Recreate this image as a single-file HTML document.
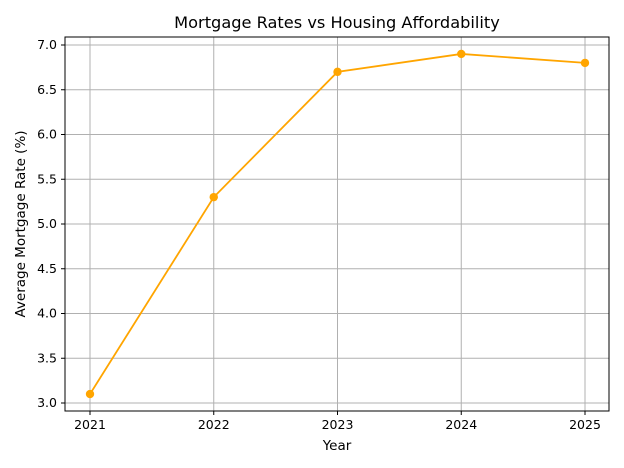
<!DOCTYPE html>
<html><head><meta charset="utf-8"><style>html,body{margin:0;padding:0;background:#fff;}svg{display:block;}</style></head>
<body>
<svg width="624" height="468" viewBox="0 0 624 468" xmlns="http://www.w3.org/2000/svg" font-family="'DejaVu Sans','Liberation Sans',sans-serif">
<rect width="624" height="468" fill="#fff"/>
<g stroke="#b0b0b0" stroke-width="1">
<line x1="90" y1="37" x2="90" y2="411"/>
<line x1="213.75" y1="37" x2="213.75" y2="411"/>
<line x1="337.5" y1="37" x2="337.5" y2="411"/>
<line x1="461.25" y1="37" x2="461.25" y2="411"/>
<line x1="585" y1="37" x2="585" y2="411"/>
<line x1="65" y1="403" x2="609" y2="403"/>
<line x1="65" y1="358.25" x2="609" y2="358.25"/>
<line x1="65" y1="313.5" x2="609" y2="313.5"/>
<line x1="65" y1="268.75" x2="609" y2="268.75"/>
<line x1="65" y1="224" x2="609" y2="224"/>
<line x1="65" y1="179.25" x2="609" y2="179.25"/>
<line x1="65" y1="134.5" x2="609" y2="134.5"/>
<line x1="65" y1="89.75" x2="609" y2="89.75"/>
<line x1="65" y1="45" x2="609" y2="45"/>
</g>
<polyline points="90,394.05 213.75,197.15 337.5,71.85 461.25,53.95 585,62.9" fill="none" stroke="#ffa500" stroke-width="1.8"/>
<g fill="#ffa500">
<circle cx="90" cy="394.05" r="4.2"/><circle cx="213.75" cy="197.15" r="4.2"/><circle cx="337.5" cy="71.85" r="4.2"/><circle cx="461.25" cy="53.95" r="4.2"/><circle cx="585" cy="62.9" r="4.2"/>
</g>
<rect x="65" y="37" width="544" height="374" fill="none" stroke="#000" stroke-width="1"/>
<g stroke="#000">
<line x1="90" y1="411" x2="90" y2="415"/><line x1="213.75" y1="411" x2="213.75" y2="415"/><line x1="337.5" y1="411" x2="337.5" y2="415"/><line x1="461.25" y1="411" x2="461.25" y2="415"/><line x1="585" y1="411" x2="585" y2="415"/>
<line x1="61" y1="403" x2="65" y2="403"/><line x1="61" y1="358.25" x2="65" y2="358.25"/><line x1="61" y1="313.5" x2="65" y2="313.5"/><line x1="61" y1="268.75" x2="65" y2="268.75"/><line x1="61" y1="224" x2="65" y2="224"/><line x1="61" y1="179.25" x2="65" y2="179.25"/><line x1="61" y1="134.5" x2="65" y2="134.5"/><line x1="61" y1="89.75" x2="65" y2="89.75"/><line x1="61" y1="45" x2="65" y2="45"/>
</g>
<g font-size="12.5" fill="#000" text-anchor="middle">
<text x="90" y="429">2021</text><text x="213.75" y="429">2022</text><text x="337.5" y="429">2023</text><text x="461.25" y="429">2024</text><text x="585" y="429">2025</text>
</g>
<g font-size="12.5" fill="#000" text-anchor="end">
<text x="57" y="407">3.0</text><text x="57" y="362.25">3.5</text><text x="57" y="317.5">4.0</text><text x="57" y="272.75">4.5</text><text x="57" y="228">5.0</text><text x="57" y="183.25">5.5</text><text x="57" y="138.5">6.0</text><text x="57" y="93.75">6.5</text><text x="57" y="49">7.0</text>
</g>
<text x="337" y="450" font-size="13.5" text-anchor="middle">Year</text>
<text x="0" y="0" font-size="13.5" text-anchor="middle" transform="translate(25,224) rotate(-90)">Average Mortgage Rate (%)</text>
<text x="337" y="28" font-size="16.2" text-anchor="middle">Mortgage Rates vs Housing Affordability</text>
</svg>
</body></html>
